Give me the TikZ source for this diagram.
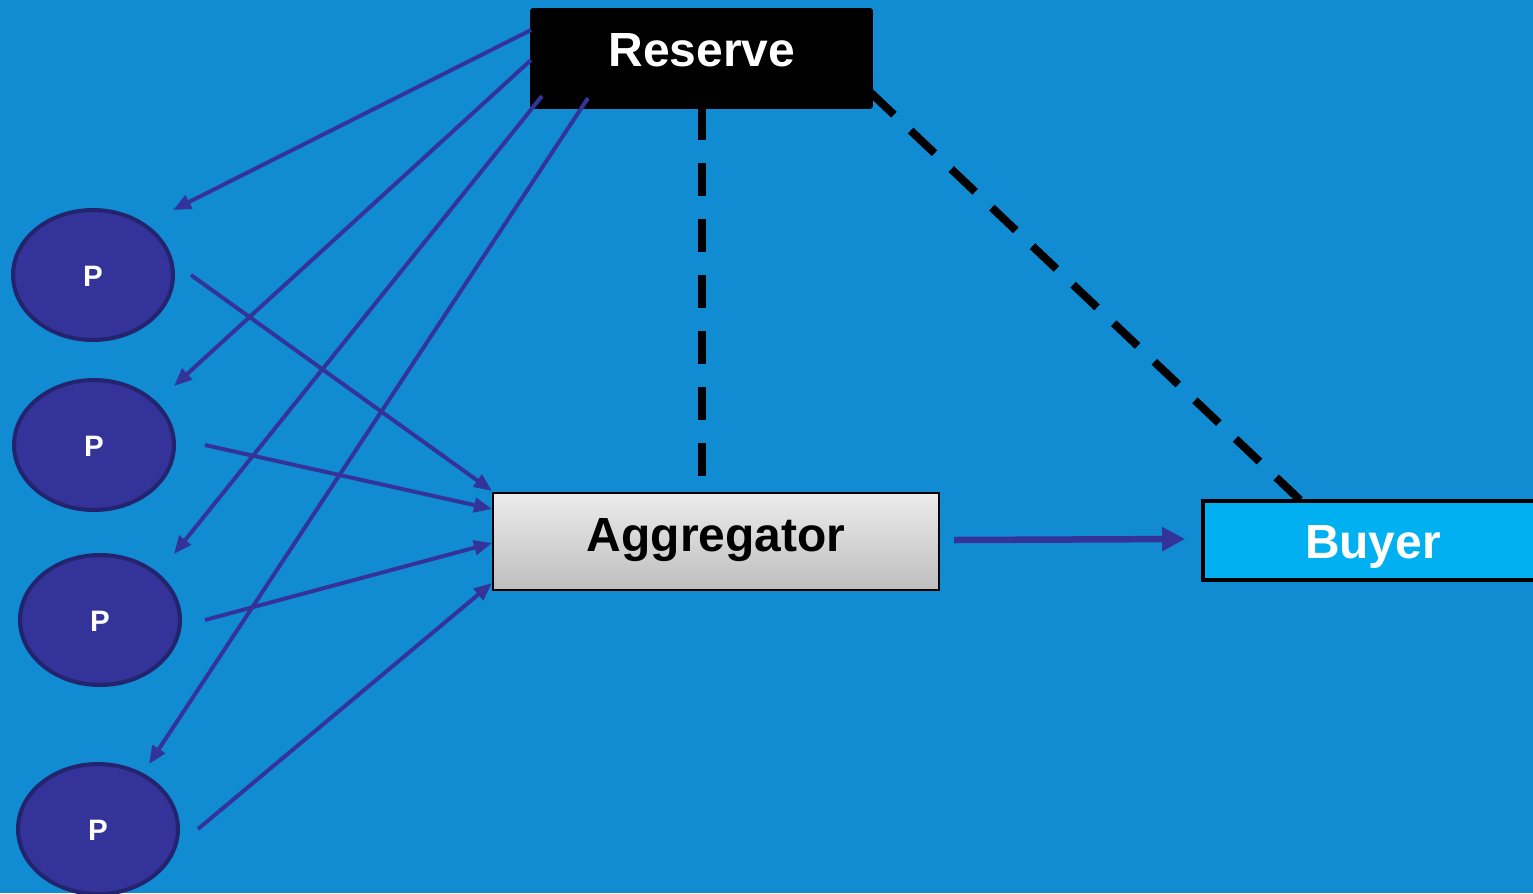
\documentclass[tikz,border=0pt]{standalone}
\usepackage{fontspec}
\setmainfont{Liberation Sans}
\usetikzlibrary{arrows.meta,shapes.geometric}
\definecolor{bgblue}{RGB}{17,140,211}
\definecolor{pfill}{RGB}{51,51,153}
\definecolor{pedge}{RGB}{36,36,110}
\definecolor{arrowc}{RGB}{51,51,153}
\definecolor{buyerfill}{RGB}{0,176,240}
\definecolor{aggtop}{RGB}{236,236,236}
\definecolor{aggbot}{RGB}{190,190,190}
\tikzset{
  bigtxt/.style={font=\fontsize{27.3}{30}\selectfont\bfseries, inner sep=0pt, anchor=base},
  ptxt/.style={font=\fontsize{16.8}{19}\selectfont\bfseries, text=white, inner sep=0pt, anchor=base},
  pnode/.style={ellipse, draw=pedge, fill=pfill, line width=0.08cm,
    minimum width=3.2cm, minimum height=2.6cm, inner sep=0pt},
  flow/.style={draw=arrowc, line width=0.08cm,
    -{Triangle[length=0.36cm,width=0.29cm]}},
  bigflow/.style={draw=arrowc, line width=0.13cm,
    -{Triangle[length=0.46cm,width=0.46cm]}},
  link/.style={draw=black, line width=0.16cm, dash pattern=on 0.66cm off 0.46cm}
}
\begin{document}
\begin{tikzpicture}[x=0.02cm,y=-0.02cm]
  \useasboundingbox (0,0) rectangle (1533,893);
  \clip (0,0) rectangle (1533,893);
  \fill[bgblue] (0,0) rectangle (1533,893);

  % boxes
  \node[fill=black, rounded corners=0.06cm, minimum width=6.86cm, minimum height=2.02cm,
        inner sep=0pt] (res) at (701.5,58.5) {};
  \node[draw=black, line width=0.04cm, top color=aggtop, bottom color=aggbot,
        minimum width=8.92cm, minimum height=1.94cm, inner sep=0pt] (agg) at (716,541.5) {};
  \node[draw=black, fill=buyerfill, line width=0.08cm, minimum width=6.8cm,
        minimum height=1.58cm, inner sep=0pt] (buy) at (1373,540.5) {};

  % producers
  \node[pnode] (p1) at (93,275) {};
  \node[pnode] (p2) at (94,445) {};
  \node[pnode] (p3) at (100,620) {};
  \node[pnode] (p4) at (98,829) {};

  % labels
  \node[bigtxt, text=white] (resl) at (702,66) {Reserve};
  \node[bigtxt, text=black] (aggl) at (716,551) {Aggregator};
  \node[bigtxt, text=white] (buyl) at (1373,558) {Buyer};
  \node[ptxt] (p1l) at (93,286) {P};
  \node[ptxt] (p2l) at (94,456) {P};
  \node[ptxt] (p3l) at (100,631) {P};
  \node[ptxt] (p4l) at (98,840) {P};

  % connector end points
  \coordinate (r1s) at (531,30);  \coordinate (r1e) at (173,210);
  \coordinate (r2s) at (531,60);  \coordinate (r2e) at (174,386);
  \coordinate (r3s) at (542,96);  \coordinate (r3e) at (174,554);
  \coordinate (r4s) at (588,98);  \coordinate (r4e) at (149,764);
  \coordinate (a1s) at (191,275); \coordinate (a1e) at (492,491);
  \coordinate (a2s) at (205,445); \coordinate (a2e) at (492,509);
  \coordinate (a3s) at (205,620); \coordinate (a3e) at (492,543);
  \coordinate (a4s) at (198,829); \coordinate (a4e) at (492,583);
  \coordinate (bs) at (954,540);  \coordinate (be) at (1185,539);
  \coordinate (d1s) at (702,107); \coordinate (d1e) at (702,476);
  \coordinate (d2s) at (870,92);  \coordinate (d2e) at (1300,500);

  % reserve to producers
  \draw[flow] (r1s) -- (r1e);
  \draw[flow] (r2s) -- (r2e);
  \draw[flow] (r3s) -- (r3e);
  \draw[flow] (r4s) -- (r4e);
  % producers to aggregator
  \draw[flow] (a1s) -- (a1e);
  \draw[flow] (a2s) -- (a2e);
  \draw[flow] (a3s) -- (a3e);
  \draw[flow] (a4s) -- (a4e);
  % aggregator to buyer
  \draw[bigflow] (bs) -- (be);
  % dashed links from the reserve
  \draw[link] (d1s) -- (d1e);
  \draw[link] (d2s) -- (d2e);
\end{tikzpicture}
\end{document}
